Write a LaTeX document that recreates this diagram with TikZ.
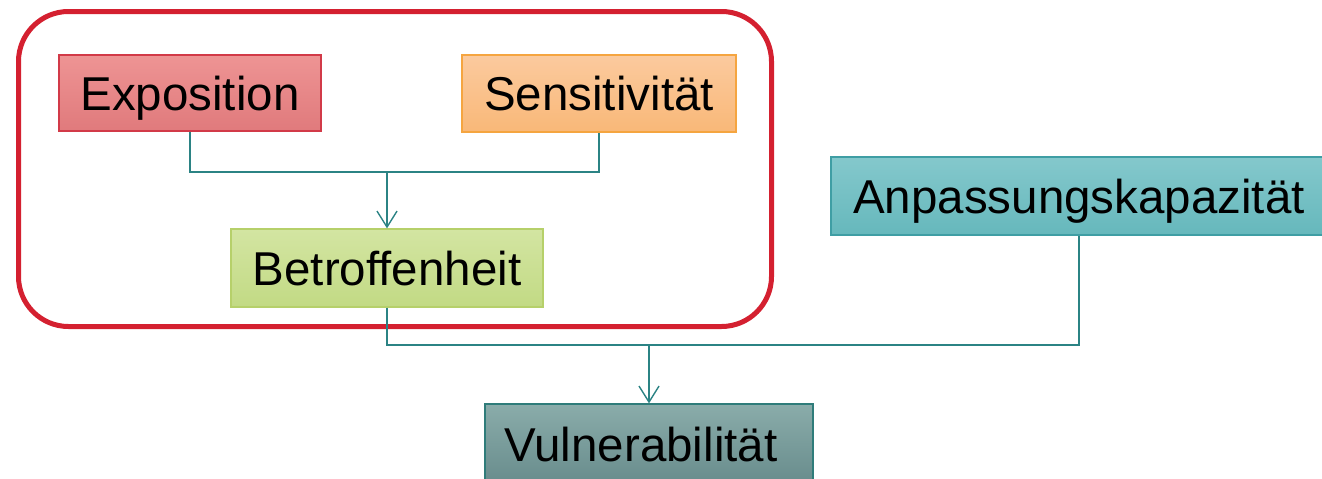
\documentclass[tikz,border=0pt]{standalone}
\usepackage{fontspec}
\setmainfont{Liberation Sans}
\usetikzlibrary{arrows.meta}
\definecolor{expT}{HTML}{EE9494}\definecolor{expB}{HTML}{E07A7C}\definecolor{expD}{HTML}{D23A48}
\definecolor{senT}{HTML}{FBCA9E}\definecolor{senB}{HTML}{F9B878}\definecolor{senD}{HTML}{F5A540}
\definecolor{betT}{HTML}{D3E5A2}\definecolor{betB}{HTML}{C2DA84}\definecolor{betD}{HTML}{B6D06A}
\definecolor{anpT}{HTML}{84C8CC}\definecolor{anpB}{HTML}{66B8BC}\definecolor{anpD}{HTML}{3F9EA4}
\definecolor{vulT}{HTML}{8AACAA}\definecolor{vulB}{HTML}{688C8C}\definecolor{vulD}{HTML}{2F7C7A}
\definecolor{conn}{HTML}{2B8384}
\definecolor{frame}{HTML}{D42030}
\tikzset{
  box/.style={draw, line width=1.2pt, inner sep=0pt, anchor=center,
    font=\fontsize{47.5}{50}\selectfont, text=black, text height=34pt, text depth=0pt},
  link/.style={draw=conn, line width=1.4pt},
  arr/.style={link, -{Straight Barb[length=16pt,width=20pt,line width=1.4pt]}},
}
\begin{document}
\begin{tikzpicture}[x=1pt,y=-1pt]
\useasboundingbox (0,0) rectangle (1322,479);
\draw[frame, line width=5pt, rounded corners=50pt] (18.5,11.5) rectangle (771.5,326.5);
\node[box, draw=expD, top color=expT, bottom color=expB, minimum width=262pt, minimum height=76pt] (expo) at (190,93) {Exposition};
\node[box, draw=senD, top color=senT, bottom color=senB, minimum width=274pt, minimum height=77pt] (sens) at (599,93.5) {Sensitivität};
\node[box, draw=betD, top color=betT, bottom color=betB, minimum width=312pt, minimum height=78pt] (betr) at (387,268) {Betroffenheit};
\node[box, draw=anpD, top color=anpT, bottom color=anpB, minimum width=496pt, minimum height=78pt] (anp) at (1079,196) {Anpassungskapazität};
\node[box, draw=vulD, top color=vulT, bottom color=vulB, minimum width=328pt, minimum height=80pt] (vul) at (649,444) {Vulnerabilität\hspace*{16pt}};
\coordinate (j1) at (387,172);
\coordinate (j2) at (649,345);
\draw[link] (expo.south) |- (j1) -| (sens.south);
\draw[arr] (j1) -- (betr.north);
\draw[link] (betr.south) |- (j2) -| (anp.south);
\draw[arr] (j2) -- (vul.north);
\end{tikzpicture}
\end{document}
